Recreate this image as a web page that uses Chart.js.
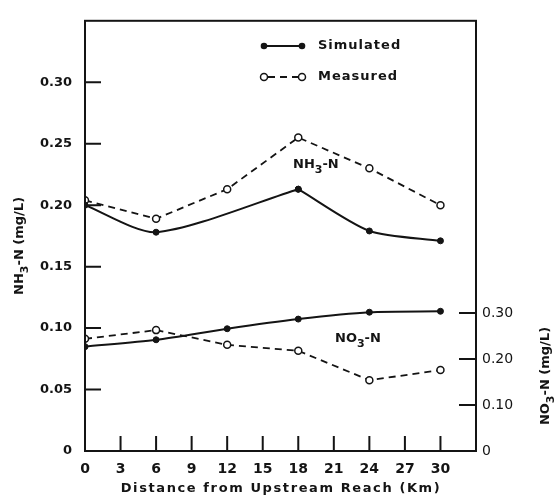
<!DOCTYPE html>
<html>
<head>
<meta charset="utf-8">
<script src="https://cdn.jsdelivr.net/npm/chart.js@4.4.0/dist/chart.umd.min.js"></script>
<style>
  html, body { margin: 0; padding: 0; background: #fff; }
  #wrap { width: 559px; height: 496px; }
</style>
</head>
<body>
<div id="wrap"><canvas id="graphe"></canvas></div>
<script>
// distances (km) et valeurs
const DISTANCES = [0, 6, 12, 18, 24, 30];
const DIST_NH3_SIM = [0, 6, 18, 24, 30];
const NH3_SIMULE = [0.200, 0.178, 0.213, 0.179, 0.171];
const NH3_MESURE = [0.204, 0.189, 0.213, 0.255, 0.230, 0.200];
const NO3_SIMULE = [0.227, 0.242, 0.266, 0.287, 0.302, 0.304];
const NO3_MESURE = [0.244, 0.263, 0.231, 0.218, 0.154, 0.176];

const TICKS_X = [0, 3, 6, 9, 12, 15, 18, 21, 24, 27, 30];
const TICKS_NH3 = [0, 0.05, 0.10, 0.15, 0.20, 0.25, 0.30];
const TICKS_NO3 = [0, 0.10, 0.20, 0.30];

const ENCRE = '#141414';
const POLICE = '"DejaVu Sans", sans-serif';

function points(xs, ys) {
    return xs.map((x, i) => ({ x: x, y: ys[i] }));
}

// la courbe simulée NH3 a une pointe à 18 km : on la coupe en deux morceaux
const iPic = DIST_NH3_SIM.indexOf(18);
const nh3SimA = points(DIST_NH3_SIM.slice(0, iPic + 1), NH3_SIMULE.slice(0, iPic + 1));
const nh3SimB = points(DIST_NH3_SIM.slice(iPic), NH3_SIMULE.slice(iPic));

function serieSimulee(data, axe) {
    return {
        data: data, yAxisID: axe,
        borderColor: ENCRE, borderWidth: 2,
        pointRadius: 3, pointBorderWidth: 1, pointBackgroundColor: ENCRE, pointBorderColor: ENCRE,
        tension: 0.25, fill: false
    };
}
function serieMesuree(data, axe) {
    return {
        data: data, yAxisID: axe,
        borderColor: ENCRE, borderWidth: 1.8, borderDash: [7, 5],
        pointRadius: 3.5, pointBackgroundColor: '#fff', pointBorderColor: ENCRE, pointBorderWidth: 1.5,
        tension: 0, fill: false
    };
}

// texte avec indice (ex : NH3-N)
function texteIndice(ctx, morceaux, x, y, taille) {
    morceaux.forEach(m => {
        const indice = m[1];
        ctx.font = 'bold ' + (indice ? taille - 2 : taille) + 'px ' + POLICE;
        ctx.fillText(m[0], x, indice ? y + 5 : y);
        x += ctx.measureText(m[0]).width;
    });
}
function largeurIndice(ctx, morceaux, taille) {
    let w = 0;
    morceaux.forEach(m => {
        ctx.font = 'bold ' + (m[1] ? taille - 2 : taille) + 'px ' + POLICE;
        w += ctx.measureText(m[0]).width;
    });
    return w;
}

const decor = {
    id: 'decor',
    afterDraw(chart) {
        const ctx = chart.ctx;
        const a = chart.chartArea;
        const sx = chart.scales.x, sy = chart.scales.y, sy1 = chart.scales.y1;
        ctx.save();
        ctx.strokeStyle = ENCRE;
        ctx.fillStyle = ENCRE;

        // cadre
        ctx.lineWidth = 2;
        ctx.strokeRect(a.left, a.top, a.right - a.left, a.bottom - a.top);

        // graduations vers l'intérieur
        ctx.beginPath();
        TICKS_NH3.forEach(v => {
            if (v === 0) return;
            const y = sy.getPixelForValue(v);
            ctx.moveTo(a.left, y); ctx.lineTo(a.left + 16, y);
        });
        TICKS_NO3.forEach(v => {
            if (v === 0) return;
            const y = sy1.getPixelForValue(v);
            ctx.moveTo(a.right - 17, y); ctx.lineTo(a.right, y);
        });
        TICKS_X.forEach(v => {
            if (v === 0) return;
            const x = sx.getPixelForValue(v);
            ctx.moveTo(x, a.bottom); ctx.lineTo(x, a.bottom - 15);
        });
        ctx.stroke();

        // légende
        const lx0 = 264, lx1 = 302;
        ctx.lineWidth = 2;
        ctx.setLineDash([]);
        ctx.beginPath(); ctx.moveTo(lx0, 46); ctx.lineTo(lx1, 46); ctx.stroke();
        [lx0, lx1].forEach(x => { ctx.beginPath(); ctx.arc(x, 46, 3.3, 0, Math.PI * 2); ctx.fill(); });
        ctx.lineWidth = 1.8;
        ctx.setLineDash([7, 5]);
        ctx.beginPath(); ctx.moveTo(lx0 + 4, 77); ctx.lineTo(lx1 - 4, 77); ctx.stroke();
        ctx.setLineDash([]);
        ctx.lineWidth = 1.5;
        ctx.fillStyle = '#fff';
        [lx0, lx1].forEach(x => { ctx.beginPath(); ctx.arc(x, 77, 3.5, 0, Math.PI * 2); ctx.fill(); ctx.stroke(); });
        ctx.fillStyle = ENCRE;
        ctx.font = 'bold 13px ' + POLICE;
        ctx.letterSpacing = '1px';
        ctx.textBaseline = 'middle';
        ctx.textAlign = 'left';
        ctx.fillText('Simulated', 318, 46);
        ctx.fillText('Measured', 318, 77);
        ctx.letterSpacing = '0px';

        // étiquettes des courbes
        ctx.textBaseline = 'alphabetic';
        texteIndice(ctx, [['NH', false], ['3', true], ['-N', false]], 293, 168, 13);
        texteIndice(ctx, [['NO', false], ['3', true], ['-N', false]], 335, 342, 13);

        // titres des axes
        ctx.textAlign = 'left';
        const tGauche = [['NH', false], ['3', true], ['-N (mg/L)', false]];
        const tDroite = [['NO', false], ['3', true], ['-N (mg/L)', false]];
        ctx.save();
        ctx.translate(23, (a.top + a.bottom) / 2 + 10);
        ctx.rotate(-Math.PI / 2);
        texteIndice(ctx, tGauche, -largeurIndice(ctx, tGauche, 13) / 2, 0, 13);
        ctx.restore();
        ctx.save();
        ctx.translate(549, 376);
        ctx.rotate(-Math.PI / 2);
        texteIndice(ctx, tDroite, -largeurIndice(ctx, tDroite, 13) / 2, 0, 13);
        ctx.restore();

        ctx.font = 'bold 13px ' + POLICE;
        ctx.letterSpacing = '1.6px';
        ctx.textAlign = 'center';
        ctx.textBaseline = 'middle';
        ctx.fillText('Distance from Upstream Reach (Km)', 281, 489);
        ctx.letterSpacing = '0px';
        ctx.restore();
    }
};

new Chart(document.getElementById('graphe'), {
    type: 'line',
    data: {
        datasets: [
            serieSimulee(nh3SimA, 'y'),
            serieSimulee(nh3SimB, 'y'),
            serieMesuree(points(DISTANCES, NH3_MESURE), 'y'),
            serieSimulee(points(DISTANCES, NO3_SIMULE), 'y1'),
            serieMesuree(points(DISTANCES, NO3_MESURE), 'y1')
        ]
    },
    options: {
        responsive: true,
        maintainAspectRatio: false,
        animation: false,
        layout: { padding: { top: 14, left: 0, right: 0, bottom: 0 } },
        plugins: { legend: { display: false }, tooltip: { enabled: false } },
        scales: {
            x: {
                type: 'linear', min: 0, max: 33,
                afterBuildTicks: s => { s.ticks = TICKS_X.map(v => ({ value: v })); },
                afterFit: s => { s.height = 45; },
                grid: { display: false, drawTicks: false },
                border: { display: false },
                ticks: { color: ENCRE, padding: 10, maxRotation: 0, autoSkip: false,
                         font: { family: POLICE, size: 14, weight: 'bold' },
                         callback: v => String(v) }
            },
            y: {
                position: 'left', min: 0, max: 0.35,
                afterBuildTicks: s => { s.ticks = TICKS_NH3.map(v => ({ value: v })); },
                afterFit: s => { s.width = 85; },
                grid: { display: false, drawTicks: false },
                border: { display: false },
                ticks: { color: ENCRE, padding: 13, autoSkip: false,
                         font: { family: POLICE, size: 13, weight: 'bold' },
                         callback: v => v === 0 ? '0' : v.toFixed(2) }
            },
            y1: {
                position: 'right', min: 0, max: 0.936,
                afterBuildTicks: s => { s.ticks = TICKS_NO3.map(v => ({ value: v })); },
                afterFit: s => { s.width = 83; },
                grid: { display: false, drawTicks: false },
                border: { display: false },
                ticks: { color: ENCRE, padding: 6, autoSkip: false,
                         font: { family: POLICE, size: 14 },
                         callback: v => v === 0 ? '0' : v.toFixed(2) }
            }
        }
    },
    plugins: [decor]
});
</script>
</body>
</html>
